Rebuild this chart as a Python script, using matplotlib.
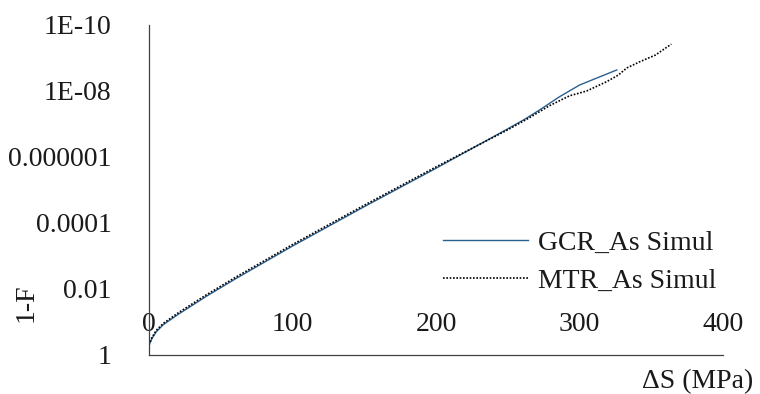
import matplotlib
matplotlib.use("Agg")
import matplotlib.pyplot as plt

plt.rcParams['font.family'] = ['Liberation Serif', 'DejaVu Serif']

# stress range (MPa) and exceedance probability 1-F
gcr_ds = [0, 2, 5, 10, 20, 40, 60, 100, 150, 200, 250, 262, 272, 286, 300, 326]
gcr_p = [5.0e-1, 3.2e-1, 2.0e-1, 1.2e-1, 6.0e-2, 1.66e-2, 5.0e-3, 5.0e-4,
         3.2e-5, 2.2e-6, 1.4e-7, 7.1e-8, 3.8e-8, 1.5e-8, 6.6e-9, 2.3e-9]

mtr_ds = [0, 2, 5, 10, 20, 40, 60, 100, 150, 200, 250, 265, 279, 293, 305,
          319, 327, 333, 342, 353, 364]
mtr_p = [5.0e-1, 3.0e-1, 1.8e-1, 1.1e-1, 5.4e-2, 1.5e-2, 4.5e-3, 4.5e-4,
         2.9e-5, 2.0e-6, 1.5e-7, 6.5e-8, 2.8e-8, 1.4e-8, 1.0e-8,
         5.2e-9, 3.3e-9, 2.0e-9, 1.3e-9, 8.1e-10, 3.8e-10]

x_ticks = [0, 100, 200, 300, 400]
y_ticks = [1, 1e-2, 1e-4, 1e-6, 1e-8, 1e-10]
y_labels = ["1", "0.01", "0.0001", "0.000001", "1E-08", "1E-10"]

fig = plt.figure(figsize=(7.6, 3.94), dpi=100)
ax = fig.add_axes([149 / 760, 39 / 394, 574 / 760, 330 / 394])

ax.plot(gcr_ds, gcr_p, color="#2b5f8e", lw=1.0, label="GCR_As Simul")
ax.plot(mtr_ds, mtr_p, color="black", lw=1.2, linestyle=(0, (1, 1)),
        label="MTR_As Simul")

ax.set_yscale("log")
ax.set_xlim(0, 400)
ax.set_ylim(1, 1e-10)
ax.set_xticks(x_ticks)
ax.set_xticklabels([str(t) for t in x_ticks])
ax.set_yticks(y_ticks)
ax.set_yticklabels(y_labels)
ax.minorticks_off()

for side in ["top", "right"]:
    ax.spines[side].set_visible(False)
for side in ["left", "bottom"]:
    ax.spines[side].set_color("#404040")
    ax.spines[side].set_linewidth(0.9)

ax.tick_params(axis="both", length=0, labelsize=20, colors="#1a1a1a")
ax.tick_params(axis="x", pad=-31)
ax.tick_params(axis="y", pad=27)

ax.set_ylabel("1-F", fontsize=20, color="#1a1a1a")
ax.yaxis.set_label_coords(-0.193, 0.158)
ax.set_xlabel("\u0394S (MPa)", fontsize=20, color="#1a1a1a", ha="right", va="center")
ax.xaxis.set_label_coords(1.052, -0.082)

ax.legend(loc="upper left", bbox_to_anchor=(443 / 760, 1 - 230 / 394),
          bbox_transform=fig.transFigure, frameon=False, fontsize=20,
          handlelength=3.05, handletextpad=0.36, labelspacing=0.45,
          borderpad=0, borderaxespad=0, labelcolor="#1a1a1a")

fig.savefig("out.png", dpi=100)
